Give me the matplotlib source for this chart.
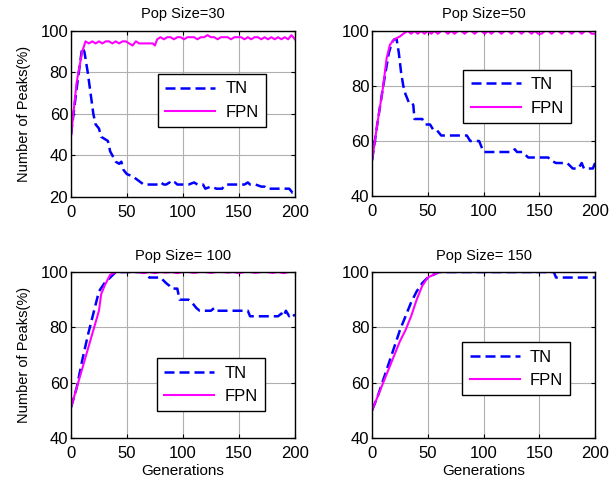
import numpy as np
import matplotlib
matplotlib.use('Agg')
import matplotlib.pyplot as plt

plt.rcParams['font.family'] = ['Liberation Sans', 'DejaVu Sans']

titles = ['Pop Size=30', 'Pop Size=50', 'Pop Size= 100', 'Pop Size= 150']
ylims = [(20, 100), (40, 100), (40, 100), (40, 100)]
yticks = [[20, 40, 60, 80, 100], [40, 60, 80, 100], [40, 60, 80, 100], [40, 60, 80, 100]]

# pop size 30
tn30_x = [0, 5, 10, 12, 15, 18, 20, 22, 25, 27, 30, 33, 35, 38, 40, 43, 45, 47, 50, 55, 60, 65, 70, 75,
          78, 80, 83, 85, 88, 90, 93, 95, 98, 100, 105, 110, 113, 115, 118, 120, 125, 130, 135, 138,
          140, 143, 145, 150, 155, 158, 160, 163, 165, 170, 173, 175, 180, 185, 190, 195, 198, 200]
tn30_y = [50, 72, 92, 90, 80, 68, 60, 55, 53, 49, 48, 47, 42, 39, 37, 36, 37, 33, 31, 30, 28, 26, 26, 26,
          26, 27, 26, 26, 27, 26, 27, 26, 26, 26, 26, 27, 26, 26, 26, 24, 25, 24, 24, 26,
          26, 26, 26, 26, 26, 27, 26, 26, 26, 25, 25, 24, 24, 24, 24, 24, 22, 22]
fpn30_x = [0, 5, 10, 13, 16, 19, 22, 25, 28, 31, 34, 37, 40, 43, 46, 49, 52, 55, 58, 61, 64, 67, 70, 73,
           75, 77, 80, 83, 86, 89, 92, 95, 98, 101, 104, 107, 110, 113, 116, 119, 122, 125, 128, 131,
           134, 137, 140, 143, 146, 149, 152, 155, 158, 161, 164, 167, 170, 173, 176, 179, 182, 185,
           188, 191, 194, 197, 200]
fpn30_y = [49, 75, 90, 95, 94, 95, 94, 95, 94, 95, 95, 94, 95, 94, 95, 95, 94, 93, 95, 94, 94, 94, 94, 94,
           93, 96, 97, 96, 97, 97, 96, 97, 97, 96, 97, 97, 97, 96, 97, 97, 98, 97, 97, 96,
           97, 97, 97, 96, 97, 97, 97, 96, 97, 96, 97, 97, 96, 97, 96, 97, 96, 97,
           96, 97, 96, 98, 96]

# pop size 50
tn50_x = [0, 5, 10, 15, 18, 20, 22, 24, 26, 28, 30, 33, 36, 37, 38, 42, 45, 46, 48, 52, 55, 58, 60, 62,
          66, 70, 75, 80, 85, 88, 92, 96, 98, 100, 105, 110, 115, 120, 125, 128, 130, 135, 140, 145,
          150, 155, 158, 160, 165, 170, 175, 180, 185, 188, 190, 195, 198, 200]
tn50_y = [53, 67, 80, 92, 96, 97, 97, 92, 85, 80, 77, 74, 74, 73, 68, 68, 68, 67, 66, 66, 64, 64, 63, 62,
          62, 62, 62, 62, 62, 60, 60, 60, 58, 56, 56, 56, 56, 56, 56, 57, 56, 56, 54, 54,
          54, 54, 54, 53, 52, 52, 52, 50, 50, 52, 50, 50, 50, 52]
fpn50_x = [0, 5, 10, 13, 16, 20, 25, 28, 32, 35, 38, 41, 44, 47, 50, 53, 56, 59, 62, 65, 68, 71, 74, 77,
           80, 83, 86, 89, 92, 95, 98, 101, 104, 107, 110, 113, 116, 119, 122, 125, 128, 131, 134, 137,
           140, 143, 146, 149, 152, 155, 158, 161, 164, 167, 170, 173, 176, 179, 182, 185, 188, 191,
           194, 197, 200]
fpn50_y = [53, 67, 80, 90, 95, 97, 98, 99, 100, 99, 100, 99, 100, 99, 100, 99, 100, 99, 100, 100, 99, 100,
           99, 100, 100, 99, 100, 100, 99, 100, 100, 99, 100, 99, 100, 100, 99, 100, 100, 99, 100, 100,
           99, 100, 100, 99, 100, 99, 99, 100, 100, 99, 100, 100, 99, 100, 100, 99, 100, 100, 99, 100,
           100, 99, 99]

# pop size 100
tn100_x = [0, 5, 10, 15, 20, 25, 30, 35, 40, 45, 50, 55, 60, 65, 68, 70, 75, 80, 85, 88, 90, 95, 97,
           100, 105, 108, 112, 115, 120, 125, 128, 130, 140, 150, 158, 160, 170, 180, 185, 188, 190,
           192, 195, 198, 200]
tn100_y = [51, 58, 68, 77, 85, 93, 96, 98, 100, 100, 100, 100, 100, 100, 99, 98, 98, 98, 96, 95, 94, 94, 90,
           90, 90, 89, 87, 86, 86, 86, 87, 86, 86, 86, 86, 84, 84, 84, 84, 85, 84,
           86, 84, 85, 84]
fpn100_x = [0, 5, 10, 15, 20, 25, 27, 30, 35, 40, 45, 50, 55, 60, 65, 70, 75, 80, 85, 90, 95, 100, 105,
            110, 115, 120, 125, 130, 135, 140, 145, 150, 155, 160, 165, 170, 175, 180, 185, 190, 195, 200]
fpn100_y = [51, 58, 65, 72, 79, 86, 92, 95, 99, 100, 100, 100, 100, 100, 99.6, 100, 99.6, 100, 99.8, 100,
            99.6, 100, 100, 99.7, 100, 100, 99.7, 100, 100, 99.8, 100, 99.6, 100, 100, 99.7, 100,
            100, 99.7, 100, 99.6, 100, 100]

# pop size 150
tn150_x = [0, 5, 10, 15, 20, 25, 30, 35, 40, 45, 50, 55, 60, 80, 100, 120, 140, 160, 163, 165, 170,
           180, 190, 200]
tn150_y = [50, 55, 61, 67, 73, 79, 84, 89, 93, 96, 98, 99, 100, 100, 100, 100, 100, 100, 100, 98, 98,
           98, 98, 98]
fpn150_x = [0, 5, 10, 15, 20, 25, 30, 35, 40, 45, 50, 55, 60, 80, 100, 120, 140, 160, 180, 200]
fpn150_y = [50, 55, 60, 65, 70, 75, 79, 84, 90, 95, 98, 99, 100, 100, 100, 100, 100, 100, 100, 100]

series = [(tn30_x, tn30_y, fpn30_x, fpn30_y),
          (tn50_x, tn50_y, fpn50_x, fpn50_y),
          (tn100_x, tn100_y, fpn100_x, fpn100_y),
          (tn150_x, tn150_y, fpn150_x, fpn150_y)]

fig = plt.figure(figsize=(6.15, 4.84), dpi=100)
rects = [[0.1154, 0.593, 0.364, 0.343], [0.605, 0.595, 0.3626, 0.341],
         [0.1154, 0.095, 0.364, 0.343], [0.605, 0.095, 0.3626, 0.343]]
# legend anchors (axes fraction of upper-left corner)
leg_pos = [(0.388, 0.741), (0.408, 0.765), (0.384, 0.482), (0.404, 0.578)]

for i in range(4):
    ax = fig.add_axes(rects[i])
    tx, ty, fx, fy = series[i]
    ax.plot(tx, ty, '--', color='#0000ff', lw=1.8, dashes=(4, 2), label='TN')
    ax.plot(fx, fy, '-', color='#ff00ff', lw=1.5, label='FPN')
    ax.set_xlim(0, 200)
    ax.set_ylim(*ylims[i])
    ax.set_xticks([0, 50, 100, 150, 200])
    ax.set_yticks(yticks[i])
    ax.grid(True, color='#b0b0b0', lw=0.8)
    ax.tick_params(direction='in', labelsize=12, length=3, top=True, right=True)
    ax.tick_params(axis='x', pad=6)
    ax.tick_params(axis='y', pad=2)
    for s in ax.spines.values():
        s.set_linewidth(1.0)
    ax.set_title(titles[i], fontsize=10.5, pad=9)
    if i % 2 == 0:
        ax.set_ylabel('Number of Peaks(%)', fontsize=10.5, labelpad=7)
    if i >= 2:
        ax.set_xlabel('Generations', fontsize=11, labelpad=2)
    leg = ax.legend(loc='upper left', bbox_to_anchor=leg_pos[i], fontsize=12, fancybox=False,
                    edgecolor='black', framealpha=1, handlelength=3.0, borderpad=0.45,
                    labelspacing=0.5, borderaxespad=0, handletextpad=0.6)
    leg.get_frame().set_linewidth(1.0)

fig.savefig('out.png', dpi=100)
